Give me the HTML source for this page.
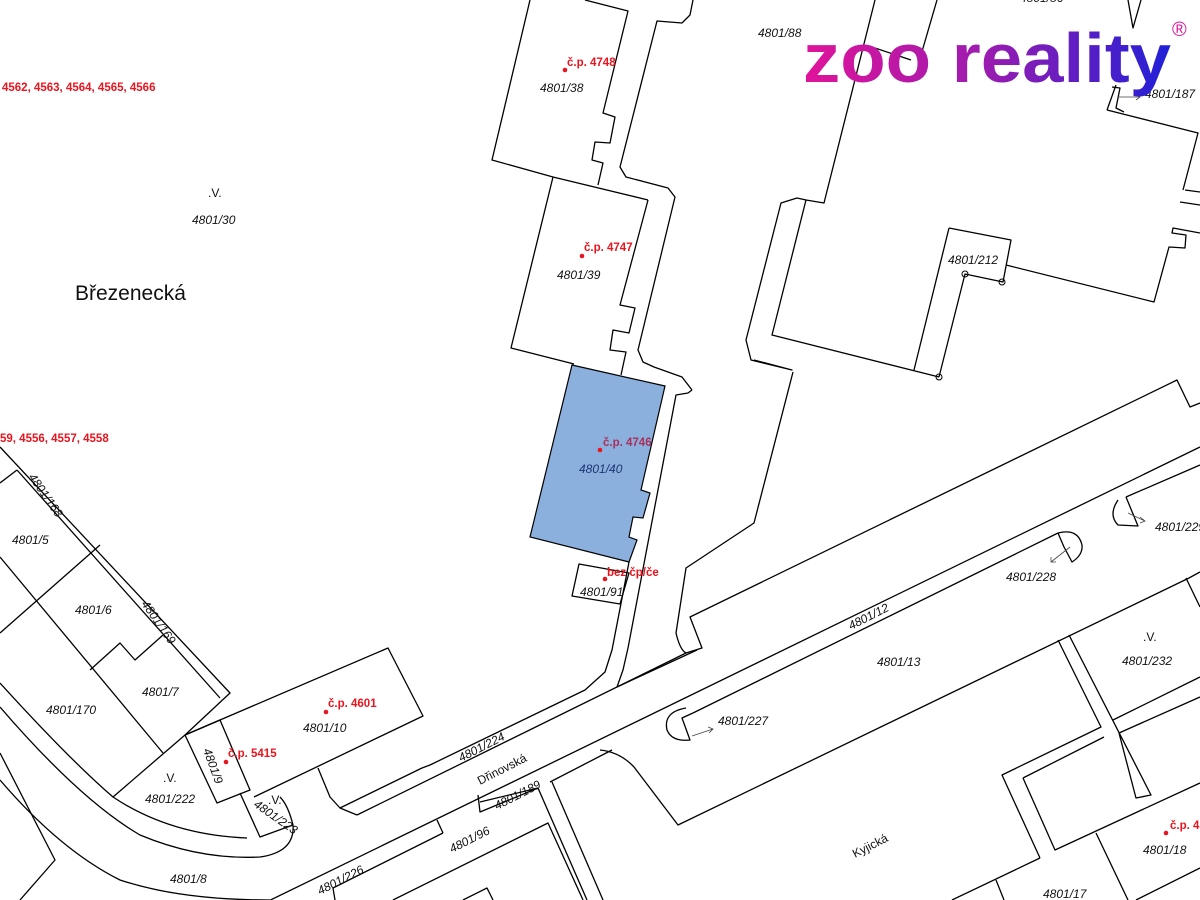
<!DOCTYPE html>
<html><head><meta charset="utf-8"><style>
html,body{margin:0;padding:0;background:#fff;}
svg{display:block;}
.l{fill:none;stroke:#000;stroke-width:1.3;stroke-linejoin:round;}
.t{font-family:"Liberation Sans",sans-serif;font-style:italic;font-size:12px;fill:#111;}
.r{font-family:"Liberation Sans",sans-serif;font-weight:bold;font-size:11.5px;fill:#e8141e;}
.v{font-family:"Liberation Sans",sans-serif;font-size:12px;fill:#111;}
</style></head><body>
<svg width="1200" height="900" viewBox="0 0 1200 900" xmlns="http://www.w3.org/2000/svg">
<!-- blue building -->
<polygon points="572,365 665,386 641,490 650,493 643,518 633,517 629,537 637,540 629,562 530,537" fill="#8bb0dd" stroke="#000" stroke-width="1.2"/>
<g class="l">
<!-- building 4801/38 -->
<polyline points="530,0 492,160 553,177 648,200"/>
<polyline points="585,0 628,11 603,113 615,117 610,143 595,142 592,160 603,163 598,185"/>
<!-- 4801/39 -->
<polyline points="553,177 511,348 574,364"/>
<polyline points="648,200 620,305 635,308 629,333 613,330 610,350 626,352 621,375"/>
<!-- narrow road -->
<polyline points="693,0 690,15 682,23 657,21 620,167 626,177 668,188 675,197 638,350 643,362 654,367 682,377 692,390"/>
<path d="M692,390 L688,393 L676,395 L628,648 L623,670 L617,687 L697,650"/>
<path d="M629,562 L612,650 L605,672 L585,690 L430,765 L422,768 L340,808"/>
<!-- 4801/91 -->
<polygon points="579,564 629,573 620,604 572,596"/>
<!-- right block -->
<polyline points="875,0 824,203 806,200 772,335 939,377"/>
<polyline points="806,200 797,198 781,203 746,340 751,360 792,370 754,360"/>
<polyline points="937,0 921,55"/>
<polyline points="875,48 911,60"/>
<polyline points="949,228 1011,240 1003,282 965,274 939,377"/>
<polyline points="949,228 914,370"/>
<polyline points="1006,265 1154,302 1169,247 1185,248 1186,235 1172,233 1173,228 1200,233"/>
<polyline points="1180,202 1200,205"/><polyline points="1185,190 1200,192"/>
<polyline points="1107,110 1198,133 1183,190"/>
<polyline points="1141,0 1133,28 1128,0"/>
<polyline points="1116,85 1107,110"/>
<polyline points="1112,87 1120,88 1116,108 1124,112"/>
<!-- big upper line A and corner -->
<path d="M793,372 L754,523 L686,568 L676,633 Q680,650 686,653 L702,648 L690,617 L1177,380 L1190,407 L1200,403"/>
<!-- Dřinovská -->
<path d="M357,815 L686,653"/>
<path d="M250,910 L1200,447"/>
<path d="M693,713 L1058,533"/>
<path d="M1126,497 L1200,465"/>
<path d="M600,750 Q620,752 634,767 L678,825 L1189,578 L1200,572"/>
<!-- semicircles -->
<path d="M686,708 Q663,712 667,730 Q672,742 690,740 L682,718 L693,713" />
<path d="M1058,533 Q1078,528 1082,545 Q1083,555 1072,562 L1064,547 L1058,533"/>
<path d="M1118,500 Q1108,515 1118,525 L1138,526 L1126,497"/>
<!-- 4801/224 building below -->
<polyline points="185,735 388,648 423,716 254,797"/>
<polyline points="318,768 330,797 340,808 357,815"/>
<!-- 4801/9 -->
<polygon points="185,735 220,720 250,790 217,803"/>
<!-- left parcels -->
<polyline points="0,447 230,693 185,735"/>
<polyline points="17,470 220,698"/>
<polyline points="0,483 17,470"/>
<polyline points="100,545 0,633"/>
<polyline points="163,635 135,660 120,643 90,670"/>
<polyline points="0,557 163,753"/>
<polyline points="113,797 185,735"/>
<path d="M0,683 Q70,760 113,797 Q170,835 247,838"/>
<path d="M0,707 Q80,800 140,835 Q200,860 260,857 Q295,852 293,825 Q288,805 280,797"/>
<polyline points="240,793 260,837 293,825"/>
<polyline points="0,753 55,860 20,900"/>
<path d="M0,780 Q60,850 120,880 Q180,900 270,900"/>
<!-- lower middle -->
<polyline points="443,833 437,820"/>
<polyline points="443,833 333,888 335,900"/>
<polyline points="393,900 548,823 583,900"/>
<polyline points="538,788 587,900"/><polyline points="552,782 603,900"/>
<polyline points="480,802 538,788"/>
<polyline points="478,795 480,812 538,788"/>
<polyline points="463,900 487,888 493,900"/>
<path d="M550,782 L612,750"/>
<!-- lower right blocks -->
<polyline points="1058,640 1101,727 1002,775 1040,858"/>
<polyline points="1069,635 1151,795 1136,798 1119,733 1200,697"/>
<polyline points="1113,720 1200,677"/>
<polyline points="1186,578 1200,607"/>
<polyline points="1023,778 1104,737"/>
<polyline points="1023,778 1055,850 1200,783"/>
<polyline points="952,900 1040,858"/>
<polyline points="996,880 1004,900"/>
<polyline points="1096,833 1128,900"/>
<polyline points="1200,868 1136,900"/>
</g>
<!-- small circles -->
<g fill="none" stroke="#000" stroke-width="1"><circle cx="965" cy="274" r="3"/><circle cx="1002" cy="282" r="3"/><circle cx="939" cy="377" r="3"/></g>
<!-- arrows -->
<g stroke="#444" stroke-width="0.8" fill="none"><path d="M692,736 L713,729 M708,727 L713,729 L709,733"/><path d="M1070,547 L1051,562 M1051,557 L1051,562 L1056,562"/><path d="M1128,513 L1145,521 M1140,517 L1145,521 L1140,523"/><path d="M1118,97 L1140,97 M1136,94 L1140,97 L1136,100"/></g>
<!-- red dots -->
<g fill="#e8141e"><circle cx="565" cy="70" r="2.3"/><circle cx="582" cy="256" r="2.3"/><circle cx="600" cy="450" r="2.3"/><circle cx="605" cy="579" r="2.3"/><circle cx="326" cy="712" r="2.3"/><circle cx="226" cy="762" r="2.3"/><circle cx="1166" cy="833" r="2.3"/></g>
<!-- labels -->
<text class="r" x="2" y="91">4562, 4563, 4564, 4565, 4566</text>
<text class="r" x="0" y="442">59, 4556, 4557, 4558</text>
<text class="v" x="208" y="197">.V.</text>
<text class="t" x="192" y="224">4801/30</text>
<text x="75" y="300" style="font-family:'Liberation Sans',sans-serif;font-size:21px;fill:#111">Březenecká</text>
<text class="r" x="567" y="66">č.p. 4748</text>
<text class="t" x="540" y="92">4801/38</text>
<text class="t" x="758" y="37">4801/88</text>
<text class="t" x="1020" y="2">4801/86</text>
<text class="r" x="584" y="251">č.p. 4747</text>
<text class="t" x="557" y="279">4801/39</text>
<text class="t" x="948" y="264">4801/212</text>
<text class="r" x="603" y="446" style="fill:#a8305c">č.p. 4746</text>
<text class="t" x="579" y="473" style="fill:#1a3570">4801/40</text>
<text class="r" x="607" y="576">bez čp/če</text>
<text class="t" x="580" y="596">4801/91</text>
<text class="t" x="1145" y="98">4801/187</text>
<text class="t" x="12" y="544">4801/5</text>
<text class="t" x="75" y="614">4801/6</text>
<text class="t" x="142" y="696">4801/7</text>
<text class="t" x="46" y="714">4801/170</text>
<text class="t" x="28" y="477" font-size="8" transform="rotate(55 28 477)">4801/168</text>
<text class="t" x="141" y="604" font-size="8" transform="rotate(55 141 604)">4801/169</text>
<text class="r" x="328" y="707">č.p. 4601</text>
<text class="t" x="303" y="732">4801/10</text>
<text class="r" x="228" y="757">č.p. 5415</text>
<text class="t" x="203" y="750" transform="rotate(70 203 750)">4801/9</text>
<text class="v" x="163" y="782">.V.</text>
<text class="t" x="145" y="803">4801/222</text>
<text class="v" x="268" y="804">.V.</text>
<text class="t" x="253" y="806" font-size="8" transform="rotate(35 253 806)">4801/223</text>
<text class="t" x="170" y="883">4801/8</text>
<text class="t" x="461" y="762" transform="rotate(-27 461 762)">4801/224</text>
<text x="480" y="785" transform="rotate(-27 480 785)" style="font-family:'Liberation Sans',sans-serif;font-size:12px;fill:#111">Dřinovská</text>
<text class="t" x="497" y="810" transform="rotate(-27 497 810)">4801/189</text>
<text class="t" x="452" y="853" transform="rotate(-27 452 853)">4801/96</text>
<text class="t" x="320" y="895" transform="rotate(-27 320 895)">4801/226</text>
<text class="t" x="851" y="630" transform="rotate(-27 851 630)">4801/12</text>
<text class="t" x="877" y="666">4801/13</text>
<text class="t" x="718" y="725">4801/227</text>
<text class="t" x="1006" y="581">4801/228</text>
<text class="t" x="1155" y="531">4801/229</text>
<text class="v" x="1143" y="641">.V.</text>
<text class="t" x="1122" y="665">4801/232</text>
<text x="855" y="858" transform="rotate(-27 855 858)" style="font-family:'Liberation Sans',sans-serif;font-size:12px;fill:#111">Kyjická</text>
<text class="r" x="1170" y="829">č.p. 4</text>
<text class="t" x="1143" y="854">4801/18</text>
<text class="t" x="1043" y="898">4801/17</text>
<!-- logo -->
<defs><linearGradient id="g" x1="0" x2="1" y1="0" y2="0"><stop offset="0" stop-color="#e0149a"/><stop offset="0.5" stop-color="#9a1cb0"/><stop offset="1" stop-color="#2020d8"/></linearGradient></defs>
<text x="803" y="82" textLength="368" lengthAdjust="spacingAndGlyphs" style="font-family:'Liberation Sans',sans-serif;font-weight:bold;font-size:70px;fill:url(#g)">zoo reality</text>
<text x="1172" y="36" style="font-family:'Liberation Sans',sans-serif;font-size:20px;fill:#e0149a">®</text>
</svg>
</body></html>
